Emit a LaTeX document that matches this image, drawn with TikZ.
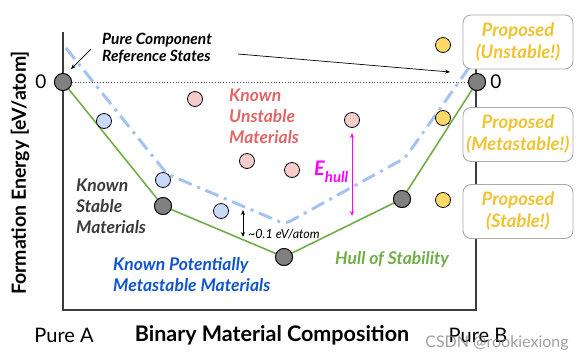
\documentclass[tikz,border=0pt]{standalone}
\usepackage{fontspec}
\setmainfont{Lato}
\usetikzlibrary{arrows.meta}
\definecolor{hullgreen}{RGB}{112,173,71}
\definecolor{dashblue}{RGB}{164,194,244}
\definecolor{ptblue}{RGB}{201,218,248}
\definecolor{ptpink}{RGB}{244,204,204}
\definecolor{ptyellow}{RGB}{255,217,102}
\definecolor{ptgray}{RGB}{128,128,128}
\definecolor{txtred}{RGB}{224,102,102}
\definecolor{txtblue}{RGB}{17,85,204}
\definecolor{txtyellow}{RGB}{241,194,50}
\definecolor{txtdark}{RGB}{60,60,60}
\definecolor{boxgray}{RGB}{170,170,170}
\definecolor{axisgray}{RGB}{60,60,60}
\definecolor{ehull}{RGB}{255,0,255}
\begin{document}
\begin{tikzpicture}[x=1pt,y=-1pt,
  dot/.style={circle,draw=black,line width=0.8pt,minimum size=15pt,inner sep=0pt},
  bigdot/.style={dot,fill=ptgray,minimum size=17pt},
  bluedot/.style={dot,fill=ptblue},
  pinkdot/.style={dot,fill=ptpink},
  yeldot/.style={dot,fill=ptyellow},
  lbl/.style={inner sep=0pt,anchor=west,align=left,font=\fontsize{17.5}{21}\selectfont\bfseries\itshape},
  propbox/.style={draw=boxgray,line width=0.9pt,fill=white,rounded corners=8pt,minimum width=110pt,minimum height=54pt,align=center,text=txtyellow,font=\fontsize{18.5}{22}\selectfont\bfseries\itshape,inner sep=0pt},
  tip/.style={-{Stealth[length=5pt,width=4pt]}},
  dtip/.style={{Stealth[length=5pt,width=4pt]}-{Stealth[length=5pt,width=4pt]}}
]
\useasboundingbox (0,0) rectangle (586,360);
% axes
\draw[axisgray,line width=1.3pt] (63,32) -- (63,310) -- (476,310) -- (476,32);
% dash-dot guide
\coordinate (d1) at (66,48);
\coordinate (d2) at (167,174);
\coordinate (d3) at (285,224);
\coordinate (d4) at (405,158);
\coordinate (d5) at (478,55);
\draw[dashblue,line width=3pt,dash pattern=on 14pt off 6pt on 3pt off 6pt,rounded corners=6pt] (d1) -- (d2) -- (d3) -- (d4) -- (d5);
% points
\node[bigdot] (pA) at (63,82) {};
\node[bigdot] (pB) at (477,82) {};
\node[bigdot] (h1) at (163,206) {};
\node[bigdot] (h2) at (284,257) {};
\node[bigdot] (h3) at (402,199) {};
\draw[black!70,dotted,line width=0.8pt] (pA) -- (pB);
\draw[hullgreen,line width=1.6pt] (pA) -- (h1) -- (h2) -- (h3) -- (pB);
\node[bigdot] at (pA) {};
\node[bigdot] at (pB) {};
\node[bigdot] at (h1) {};
\node[bigdot] at (h2) {};
\node[bigdot] at (h3) {};
\node[bluedot] (b1) at (104,121) {};
\node[bluedot] (b2) at (163,180) {};
\node[bluedot] (b3) at (221,211) {};
\node[pinkdot] (r1) at (195,99) {};
\node[pinkdot] (r2) at (247,161) {};
\node[pinkdot] (r3) at (292,170) {};
\node[pinkdot] (r4) at (352,120) {};
\node[yeldot] (y1) at (443,45) {};
\node[yeldot] (y2) at (443,118) {};
\node[yeldot] (y3) at (443,200) {};
% proposed boxes
\node[propbox] (u) at (518,42) {Proposed\\(Unstable!)};
\node[propbox] (m) at (518,134.5) {Proposed\\(Metastable!)};
\node[propbox] (s) at (518,211.5) {Proposed\\(Stable!)};
% labels
\node[lbl,font=\fontsize{15.5}{17}\selectfont\bfseries\itshape] (pc) at (102,48.5) {Pure Component\\Reference States};
\coordinate (a1s) at (91,49);
\coordinate (a1e) at (71,69);
\coordinate (a2s) at (238,54);
\coordinate (a2e) at (450,72);
\draw[tip,line width=0.7pt] (a1s) -- (a1e);
\draw[tip,line width=0.7pt] (a2s) -- (a2e);
\node[lbl,text=txtred] (ku) at (229,116.5) {Known\\Unstable\\Materials};
\node[lbl,text=txtdark] (ks) at (76,206) {Known\\Stable\\Materials};
\node[lbl,text=txtblue] (kp) at (113,274.5) {Known Potentially\\Metastable Materials};
\node[lbl,text=hullgreen] (hs) at (335,259) {Hull of Stability};
\node[lbl,font=\fontsize{12.5}{14}\selectfont\itshape] (ev) at (248,234) {\textasciitilde0.1 eV/atom};
\node[lbl,text=ehull,font=\fontsize{20}{20}\selectfont\bfseries\itshape] (eh) at (314,172) {E\raisebox{-7pt}{\fontsize{15}{15}\selectfont hull}};
\coordinate (m1) at (243,210);
\coordinate (m2) at (243,237);
\draw[dtip,line width=0.8pt] (m1) -- (m2);
\coordinate (e1) at (352,133);
\coordinate (e2) at (352,216);
\draw[dtip,ehull,line width=0.8pt] (e1) -- (e2);
% axis texts
\node[font=\fontsize{19}{19}\selectfont] (z1) at (41,82) {0};
\node[font=\fontsize{19}{19}\selectfont] (z2) at (496,82) {0};
\node[font=\fontsize{19.5}{19.5}\selectfont,rotate=90] (yl) at (20,173) {\bfseries Formation Energy [eV/atom]};
\node[font=\fontsize{20}{20}\selectfont] (pa) at (64,335) {Pure A};
\node[font=\fontsize{21.5}{21.5}\selectfont\bfseries] (xl) at (272,335) {Binary Material Composition};
\node[font=\fontsize{20}{20}\selectfont] (pb) at (478,335) {Pure B};
\node[font=\fontsize{16}{16}\selectfont,text=gray,opacity=0.75] (wm) at (497,343) {CSDN @rookiexiong};
\end{tikzpicture}
\end{document}
